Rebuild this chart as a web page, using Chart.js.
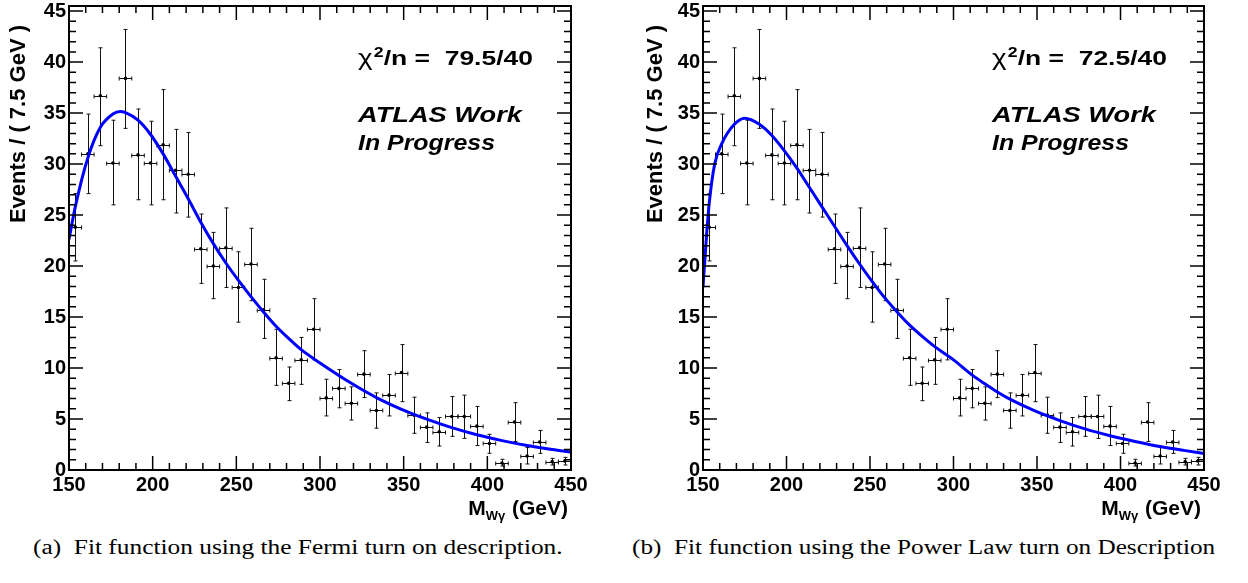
<!DOCTYPE html>
<html>
<head>
<meta charset="utf-8">
<script src="https://cdn.jsdelivr.net/npm/chart.js@4.4.1/dist/chart.umd.min.js"></script>
<style>
  body { margin: 0; background: #fff; width: 1248px; height: 583px; position: relative; overflow: hidden; }
  .panel { position: absolute; top: 0; width: 624px; height: 530px; }
  .caption { position: absolute; top: 536px; font-family: "Liberation Serif", "Times New Roman", serif;
             font-size: 20px; white-space: nowrap; color: #000; transform-origin: 0 0; }
</style>
</head>
<body>
<div class="panel" style="left:0"><canvas id="chartA" width="624" height="530"></canvas></div>
<div class="panel" style="left:624px"><canvas id="chartB" width="624" height="530"></canvas></div>
<div class="caption" id="capA" style="left:33px"></div>
<div class="caption" id="capB" style="left:632px"></div>
<script>
// data (both fits are made to the same histogram, 7.5 GeV bins)
const binCenters = [153.75, 161.25, 168.75, 176.25, 183.75, 191.25, 198.75, 206.25, 213.75, 221.25,
                    228.75, 236.25, 243.75, 251.25, 258.75, 266.25, 273.75, 281.25, 288.75, 296.25,
                    303.75, 311.25, 318.75, 326.25, 333.75, 341.25, 348.75, 356.25, 363.75, 371.25,
                    378.75, 386.25, 393.75, 401.25, 408.75, 416.25, 423.75, 431.25, 438.75, 446.25];
const binHalfWidth = 3.75;
const events = [23.8, 31.0, 36.7, 30.1, 38.4, 30.9, 30.1, 31.9, 29.4, 29.0,
                21.7, 20.0, 21.8, 17.9, 20.2, 15.7, 11.0, 8.5, 10.8, 13.8,
                7.07, 8.0, 6.55, 9.4, 5.84, 7.34, 9.56, 5.38, 4.2, 3.75,
                5.25, 5.25, 4.3, 2.6, 0.68, 4.7, 1.37, 2.74, 0.82, 0.88];
const errLow = [3.3, 3.9, 4.9, 4.1, 4.9, 4.4, 4.1, 5.4, 4.2, 4.2,
                3.4, 3.2, 3.9, 3.4, 3.6, 2.8, 2.7, 1.7, 2.4, 3.0,
                1.77, 1.9, 1.65, 2.3, 1.74, 2.04, 2.86, 1.78, 1.5, 1.4,
                1.95, 2.15, 1.9, 0.96, 0.29, 1.9, 0.78, 1.11, 0.33, 0.39];
const errHigh = [3.3, 3.9, 4.7, 4.2, 4.8, 4.5, 4.1, 5.4, 4.0, 4.1,
                 3.4, 3.3, 3.9, 3.5, 3.5, 3.0, 2.8, 1.6, 2.2, 3.0,
                 1.83, 1.85, 1.6, 2.3, 1.72, 2.02, 2.74, 1.76, 1.4, 1.4,
                 1.95, 2.09, 1.93, 0.9, 0.37, 1.9, 0.83, 1.14, 0.32, 0.36];

// fit curves
const fermiX = [150, 153.75, 161.25, 168.75, 176.25, 180.5, 183.75, 191.25, 198.75, 206.25, 213.75, 221.25,
                228.75, 236.25, 243.75, 251.25, 258.75, 266.25, 273.75, 281.25, 288.75, 300,
                318.75, 333.75, 348.75, 363.75, 378.75, 393.75, 408.75, 423.75, 438.75, 450];
const fermiY = [22.6, 25.8, 30.6, 33.6, 34.9, 35.15, 35.05, 34.3, 32.9, 31.0, 28.8, 26.6,
                24.3, 22.2, 20.3, 18.6, 17.0, 15.5, 14.1, 12.9, 11.8, 10.5,
                8.5, 7.1, 5.95, 4.98, 4.15, 3.45, 2.88, 2.4, 2.0, 1.76];
const powerX = [150, 152.2, 153.75, 157, 161.25, 168.75, 175, 183.75, 191.25, 198.75, 206.25, 213.75, 221.25,
                228.75, 236.25, 243.75, 251.25, 258.75, 266.25, 273.75, 281.25, 288.75, 300, 311.25,
                318.75, 326.25, 333.75, 348.75, 363.75, 378.75, 393.75, 408.75, 423.75, 438.75, 450];
const powerY = [17.9, 23.2, 26.2, 30.0, 32.0, 33.9, 34.5, 33.9, 32.8, 31.3, 29.6, 27.7, 25.8,
                23.9, 22.0, 20.2, 18.5, 16.9, 15.5, 14.2, 13.1, 12.1, 10.8, 9.3,
                8.45, 7.65, 6.95, 5.8, 4.85, 4.03, 3.36, 2.8, 2.3, 1.9, 1.62];

const xTicks = [150, 200, 250, 300, 350, 400, 450];
const yTicks = [0, 5, 10, 15, 20, 25, 30, 35, 40, 45];
const chiLabels = ['79.5/40', '72.5/40'];
const captions = ['(a)\u2002Fit function using the Fermi turn on description.',
                  '(b)\u2002Fit function using the Power Law turn on Description'];

const SANS = '"Liberation Sans", Arial, Helvetica, sans-serif';

function wideText(ctx, text, x, y, font, width) {
    ctx.font = font;
    const sx = width / ctx.measureText(text).width;
    ctx.save();
    ctx.translate(x, y);
    ctx.scale(sx, 1);
    ctx.fillText(text, 0, 0);
    ctx.restore();
}

const rootFrame = {
    id: 'rootFrame',
    beforeDatasetsDraw(chart) {
        const { ctx, scales: { x, y } } = chart;
        ctx.save();
        ctx.strokeStyle = '#111';
        ctx.lineWidth = 1;
        binCenters.forEach((c, i) => {
            const px = Math.round(x.getPixelForValue(c)) + 0.5;
            const py = Math.round(y.getPixelForValue(events[i])) + 0.5;
            const top = y.getPixelForValue(events[i] + errHigh[i]);
            const bot = y.getPixelForValue(events[i] - errLow[i]);
            const l = x.getPixelForValue(c - binHalfWidth);
            const r = x.getPixelForValue(c + binHalfWidth);
            ctx.beginPath();
            ctx.moveTo(px, top); ctx.lineTo(px, bot);
            ctx.moveTo(px - 2, top); ctx.lineTo(px + 2, top);
            ctx.moveTo(px - 2, bot); ctx.lineTo(px + 2, bot);
            ctx.moveTo(l, py); ctx.lineTo(r, py);
            ctx.moveTo(l, py - 2); ctx.lineTo(l, py + 2);
            ctx.moveTo(r, py - 2); ctx.lineTo(r, py + 2);
            ctx.stroke();
        });
        ctx.restore();
    },
    afterDraw(chart, args, opts) {
        const { ctx, chartArea: { left, right, top, bottom }, scales: { x, y } } = chart;
        ctx.save();
        ctx.strokeStyle = '#000';
        ctx.fillStyle = '#000';

        // ticks on all four sides, pointing in
        ctx.lineWidth = 1.5;
        ctx.beginPath();
        for (let v = 150; v <= 450; v += 10) {
            const px = x.getPixelForValue(v);
            const len = (v % 50 === 0) ? 14 : 7;
            ctx.moveTo(px, bottom); ctx.lineTo(px, bottom - len);
            ctx.moveTo(px, top); ctx.lineTo(px, top + len);
        }
        for (let v = 0; v <= 45; v += 1) {
            const py = y.getPixelForValue(v);
            const len = (v % 5 === 0) ? 14 : 7;
            ctx.moveTo(left, py); ctx.lineTo(left + len, py);
            ctx.moveTo(right, py); ctx.lineTo(right - len, py);
        }
        ctx.stroke();

        ctx.lineWidth = 2;
        ctx.strokeRect(left, top, right - left, bottom - top);

        // chi2 label, stretched to the original width
        const cx = left + 289;
        ctx.textBaseline = 'alphabetic';
        ctx.textAlign = 'left';
        const fChi = '22px ' + SANS, fSup = 'bold 14px ' + SANS, fBig = 'bold 21px ' + SANS;
        const rest = '/n =  ' + opts.chi;
        ctx.font = fChi; const w1 = ctx.measureText('\u03c7').width;
        ctx.font = fSup; const w2 = ctx.measureText('2').width;
        ctx.font = fBig; const w3 = ctx.measureText(rest).width;
        const sx = 175 / (w1 + 1 + w2 + w3);
        ctx.save();
        ctx.translate(cx, 65);
        ctx.scale(sx, 1);
        ctx.font = fChi;
        ctx.fillText('\u03c7', 0, 0);
        ctx.font = fSup;
        ctx.fillText('2', w1 + 1, -8);
        ctx.font = fBig;
        ctx.fillText(rest, w1 + 1 + w2, 0);
        ctx.restore();

        wideText(ctx, 'ATLAS Work', cx, 122, 'italic bold 22px ' + SANS, 164);
        wideText(ctx, 'In Progress', cx, 150, 'italic bold 22px ' + SANS, 137);

        // x title, right aligned at the axis end
        const big = 'bold 21px ' + SANS, small = 'bold 13px ' + SANS;
        ctx.font = big;
        const wM = ctx.measureText('M').width;
        const wRest = ctx.measureText(' (GeV)').width;
        ctx.font = small;
        const wSub = ctx.measureText('W\u03b3').width;
        let tx = right - 3 - (wM + wSub + 1 + wRest);
        ctx.font = big;
        ctx.fillText('M', tx, 515);
        tx += wM;
        ctx.font = small;
        ctx.fillText('W\u03b3', tx, 520);
        tx += wSub + 1;
        ctx.font = big;
        ctx.fillText(' (GeV)', tx, 515);

        // y title, right aligned at the top
        ctx.save();
        ctx.translate(opts.yTitleX, 25);
        ctx.rotate(-Math.PI / 2);
        ctx.textAlign = 'right';
        ctx.font = 'bold 22px ' + SANS;
        ctx.fillText('Events / ( 7.5 GeV )', 0, 0);
        ctx.restore();

        ctx.restore();
    }
};

function makePanel(canvasId, curveX, curveY, axisWidth, padRight, chi, yTitleX) {
    const ctx = document.getElementById(canvasId).getContext('2d');
    const points = binCenters.map((c, i) => ({ x: c, y: events[i] }));
    const curve = curveX.map((v, i) => ({ x: v, y: curveY[i] }));

    return new Chart(ctx, {
        type: 'scatter',
        data: {
            datasets: [{
                data: points,
                pointRadius: 1.8,
                pointStyle: 'circle',
                pointBackgroundColor: '#000',
                pointBorderColor: '#000',
                pointBorderWidth: 0,
                showLine: false,
                order: 1
            }, {
                type: 'line',
                data: curve,
                borderColor: '#0000ff',
                borderWidth: 3,
                pointRadius: 0,
                fill: false,
                cubicInterpolationMode: 'monotone',
                order: 0
            }]
        },
        options: {
            responsive: false,
            animation: false,
            devicePixelRatio: 1,
            layout: {
                padding: { left: 0, top: 6, right: padRight, bottom: 0 }
            },
            plugins: {
                legend: { display: false },
                tooltip: { enabled: false },
                rootFrame: { chi: chi, yTitleX: yTitleX }
            },
            scales: {
                x: {
                    type: 'linear',
                    min: 150,
                    max: 450,
                    grid: { display: false, drawTicks: false },
                    border: { display: false },
                    afterBuildTicks: scale => { scale.ticks = xTicks.map(v => ({ value: v })); },
                    afterFit: scale => {
                        scale.height = 60;
                        scale.paddingLeft = 0;
                        scale.paddingRight = 0;
                    },
                    ticks: {
                        autoSkip: false,
                        maxRotation: 0,
                        padding: 3,
                        color: '#000',
                        font: { family: SANS, weight: 'bold', size: 20 }
                    }
                },
                y: {
                    type: 'linear',
                    min: 0,
                    max: 45.5,
                    grid: { display: false, drawTicks: false },
                    border: { display: false },
                    afterBuildTicks: scale => { scale.ticks = yTicks.map(v => ({ value: v })); },
                    afterFit: scale => {
                        scale.width = axisWidth;
                        scale.paddingTop = 0;
                        scale.paddingBottom = 0;
                    },
                    ticks: {
                        autoSkip: false,
                        padding: 3,
                        color: '#000',
                        font: { family: SANS, weight: 'bold', size: 20 }
                    }
                }
            }
        },
        plugins: [rootFrame]
    });
}

makePanel('chartA', fermiX, fermiY, 69, 53, chiLabels[0], 25);
makePanel('chartB', powerX, powerY, 79, 44, chiLabels[1], 38);

// captions, stretched to the width they take in the original
function setCaption(id, text, width) {
    const el = document.getElementById(id);
    el.textContent = text;
    el.style.transform = 'scaleX(' + (width / el.offsetWidth) + ')';
}
setCaption('capA', captions[0], 530);
setCaption('capB', captions[1], 583);
</script>
</body>
</html>
